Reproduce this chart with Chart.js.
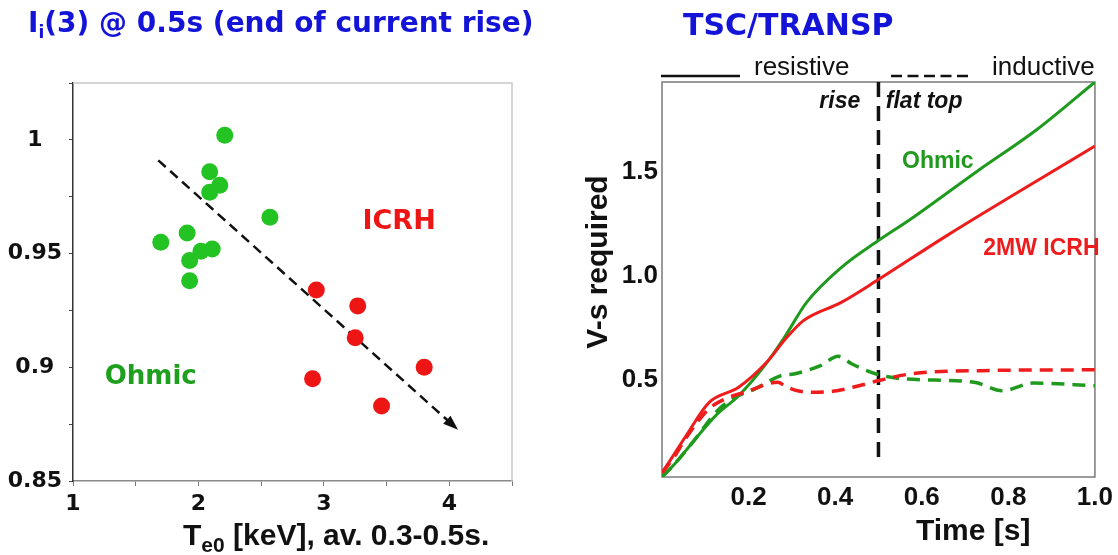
<!DOCTYPE html>
<html>
<head>
<meta charset="utf-8">
<title>li(3) and V-s required</title>
<script src="https://cdn.jsdelivr.net/npm/chart.js@4.4.1/dist/chart.umd.min.js"></script>
<style>
    html, body { margin: 0; padding: 0; background: #fff; }
    #wrap { position: relative; width: 1118px; height: 555px; overflow: hidden; }
    #leftBox { position: absolute; left: 0; top: 0; width: 560px; height: 555px; }
    #rightBox { position: absolute; left: 560px; top: 0; width: 558px; height: 555px; }
</style>
</head>
<body>
<div id="wrap">
    <div id="leftBox"><canvas id="liChart"></canvas></div>
    <div id="rightBox"><canvas id="vsChart"></canvas></div>
</div>
<script>
// ---- left panel: li(3) at 0.5s vs Te0 ----
const ohmicTe = [2.21, 2.09, 2.17, 2.09, 2.57, 1.91, 1.70, 2.02, 2.11, 1.93, 1.93];
const ohmicLi = [1.002, 0.986, 0.980, 0.977, 0.966, 0.959, 0.955, 0.951, 0.952, 0.947, 0.938];
const icrhTe = [2.94, 3.27, 3.25, 2.91, 3.80, 3.46];
const icrhLi = [0.934, 0.927, 0.913, 0.895, 0.900, 0.883];
const trendTe = [1.68, 4.04];
const trendLi = [0.991, 0.874];
const teTicks = [1, 1.5, 2, 2.5, 3, 3.5, 4, 4.5];
const teLabels = ['1', '', '2', '', '3', '', '4', ''];
const liTicks = [0.85, 0.875, 0.9, 0.925, 0.95, 0.975, 1, 1.025];
const liLabels = ['0.85', '', '0.9', '', '0.95', '', '1', ''];

// ---- right panel: TSC/TRANSP V-s required vs time ----
const ohmicResT = [0, 0.026, 0.071, 0.124, 0.177, 0.237, 0.285, 0.334, 0.414, 0.499, 0.574, 0.729, 0.866, 1.0];
const ohmicResV = [0.03, 0.085, 0.198, 0.326, 0.422, 0.567, 0.711, 0.872, 1.04, 1.169, 1.273, 1.506, 1.706, 1.935];
const icrhResT = [0, 0.026, 0.056, 0.109, 0.177, 0.245, 0.285, 0.326, 0.414, 0.499, 0.657, 1.0];
const icrhResV = [0.05, 0.133, 0.23, 0.39, 0.463, 0.591, 0.695, 0.783, 0.872, 0.981, 1.193, 1.626];
const ohmicIndT = [0, 0.026, 0.071, 0.132, 0.169, 0.215, 0.275, 0.305, 0.366, 0.407, 0.439, 0.495, 0.56, 0.721, 0.786, 0.858, 1.0];
const ohmicIndV = [0.03, 0.085, 0.198, 0.358, 0.414, 0.455, 0.519, 0.527, 0.567, 0.612, 0.575, 0.527, 0.503, 0.487, 0.446, 0.483, 0.47];
const icrhIndT = [0, 0.026, 0.056, 0.109, 0.15, 0.192, 0.268, 0.283, 0.313, 0.358, 0.404, 0.455, 0.499, 0.574, 0.737, 1.0];
const icrhIndV = [0.05, 0.12, 0.22, 0.36, 0.41, 0.439, 0.487, 0.47, 0.446, 0.439, 0.446, 0.47, 0.494, 0.527, 0.543, 0.547];
const flatTopT = [0.5, 0.5];
const flatTopV = [1.935, 0.09];
const timeTicks = [0.2, 0.4, 0.6, 0.8, 1.0];
const timeLabels = ['0.2', '0.4', '0.6', '0.8', '1.0'];
const vsTicks = [0.5, 1.0, 1.5];
const vsLabels = ['0.5', '1.0', '1.5'];

(function() {
    'use strict';

    const GREEN_DOT = '#22c322';
    const RED_DOT = '#ee1515';
    const GREEN_LINE = '#1f9a1f';
    const RED_LINE = '#ee1c1c';
    const BLUE = '#1414d8';

    function toPoints(xs, ys) {
        return xs.map((x, i) => ({ x: x, y: ys[i] }));
    }

    /**
     * draw text with a lowered, smaller piece after the first part
     */
    function drawSubText(ctx, x, y, parts) {
        parts.forEach(p => {
            ctx.font = p.font;
            ctx.fillText(p.text, x, y + (p.dy || 0));
            x += ctx.measureText(p.text).width;
        });
    }

    /**
     * left panel
     */
    function renderLiChart() {
        const decor = {
            id: 'liDecor',
            beforeDatasetsDraw(chart) {
                const { ctx, chartArea: a } = chart;
                ctx.save();
                ctx.strokeStyle = '#c8c8c8';
                ctx.lineWidth = 1.5;
                ctx.beginPath();
                ctx.moveTo(a.left, a.top);
                ctx.lineTo(a.right, a.top);
                ctx.lineTo(a.right, a.bottom);
                ctx.stroke();
                ctx.restore();
            },
            afterDatasetsDraw(chart) {
                const { ctx, scales } = chart;
                const x = scales.x, y = scales.y;
                ctx.save();

                // arrow head at end of trend line
                const x0 = x.getPixelForValue(trendTe[0]), y0 = y.getPixelForValue(trendLi[0]);
                const x1 = x.getPixelForValue(trendTe[1]), y1 = y.getPixelForValue(trendLi[1]);
                const ang = Math.atan2(y1 - y0, x1 - x0);
                ctx.translate(x1, y1);
                ctx.rotate(ang);
                ctx.fillStyle = '#111';
                ctx.beginPath();
                ctx.moveTo(5, 0);
                ctx.lineTo(-10, -5.5);
                ctx.lineTo(-10, 5.5);
                ctx.closePath();
                ctx.fill();
                ctx.setTransform(1, 0, 0, 1, 0, 0);

                ctx.textBaseline = 'middle';
                ctx.textAlign = 'center';
                ctx.font = 'bold 27px "DejaVu Sans"';
                ctx.fillStyle = RED_DOT;
                ctx.fillText('ICRH', x.getPixelForValue(3.6), y.getPixelForValue(0.9637));
                ctx.font = 'bold 26px "DejaVu Sans"';
                ctx.fillStyle = '#1ea01e';
                ctx.fillText('Ohmic', x.getPixelForValue(1.62), y.getPixelForValue(0.8955));
                ctx.restore();
            },
            afterDraw(chart) {
                const ctx = chart.ctx;
                ctx.save();
                ctx.textBaseline = 'alphabetic';
                ctx.textAlign = 'left';
                ctx.fillStyle = BLUE;
                drawSubText(ctx, 28, 32, [
                    { text: 'I', font: 'bold 28px "DejaVu Sans"' },
                    { text: 'i', font: 'bold 17px "DejaVu Sans"', dy: 6 },
                    { text: '(3) @ 0.5s (end of current rise)', font: 'bold 28px "DejaVu Sans"' }
                ]);
                ctx.fillStyle = '#111';
                drawSubText(ctx, 183, 545, [
                    { text: 'T', font: 'bold 30px "Liberation Sans"' },
                    { text: 'e0', font: 'bold 21px "Liberation Sans"', dy: 7 },
                    { text: ' [keV], av. 0.3-0.5s.', font: 'bold 30px "Liberation Sans"' }
                ]);
                ctx.restore();
            }
        };

        new Chart(document.getElementById('liChart'), {
            type: 'scatter',
            data: {
                datasets: [
                    {
                        label: 'trend',
                        type: 'line',
                        data: toPoints(trendTe, trendLi),
                        borderColor: '#111',
                        borderWidth: 2.5,
                        borderDash: [10, 6],
                        pointRadius: 0,
                        order: 3
                    },
                    {
                        label: 'Ohmic',
                        data: toPoints(ohmicTe, ohmicLi),
                        backgroundColor: GREEN_DOT,
                        borderWidth: 0,
                        pointRadius: 8.5,
                        order: 1
                    },
                    {
                        label: 'ICRH',
                        data: toPoints(icrhTe, icrhLi),
                        backgroundColor: RED_DOT,
                        borderWidth: 0,
                        pointRadius: 8.5,
                        order: 2
                    }
                ]
            },
            options: {
                responsive: true,
                maintainAspectRatio: false,
                animation: false,
                devicePixelRatio: 1,
                layout: { autoPadding: false, padding: { top: 83, right: 48, left: 0, bottom: 0 } },
                plugins: { legend: { display: false }, tooltip: { enabled: false } },
                scales: {
                    x: {
                        type: 'linear',
                        min: 1,
                        max: 4.5,
                        afterFit(s) { s.height = 74; },
                        afterBuildTicks(s) { s.ticks = teTicks.map(v => ({ value: v })); },
                        grid: { drawOnChartArea: false, tickLength: 5, color: '#777' },
                        border: { color: '#8a8a8a', width: 1.5 },
                        ticks: {
                            padding: 5,
                            color: '#111',
                            font: { family: 'DejaVu Sans', weight: 'bold', size: 22 },
                            maxRotation: 0,
                            autoSkip: false,
                            callback: (v, i) => teLabels[i]
                        }
                    },
                    y: {
                        type: 'linear',
                        min: 0.85,
                        max: 1.025,
                        afterFit(s) { s.width = 73; },
                        afterBuildTicks(s) { s.ticks = liTicks.map(v => ({ value: v })); },
                        grid: { drawOnChartArea: false, tickLength: 4, color: '#444' },
                        border: { color: '#333', width: 1.5 },
                        ticks: {
                            padding: 7,
                            crossAlign: 'center',
                            color: '#111',
                            font: { family: 'DejaVu Sans', weight: 'bold', size: 22 },
                            autoSkip: false,
                            callback: (v, i) => liLabels[i]
                        }
                    }
                }
            },
            plugins: [decor]
        });
    }

    /**
     * right panel
     */
    function renderVsChart() {
        const decor = {
            id: 'vsDecor',
            beforeDatasetsDraw(chart) {
                const { ctx, chartArea: a } = chart;
                ctx.save();
                ctx.strokeStyle = '#7a7a7a';
                ctx.lineWidth = 1.5;
                ctx.strokeRect(a.left, a.top, a.right - a.left, a.bottom - a.top);
                ctx.restore();
            },
            afterDatasetsDraw(chart) {
                const { ctx, scales } = chart;
                const x = scales.x, y = scales.y;
                ctx.save();
                ctx.textBaseline = 'alphabetic';
                ctx.fillStyle = '#111';
                ctx.font = 'italic bold 23px "Liberation Sans"';
                ctx.textAlign = 'right';
                ctx.fillText('rise', x.getPixelForValue(0.458), y.getPixelForValue(1.81));
                ctx.textAlign = 'left';
                ctx.fillText('flat top', x.getPixelForValue(0.517), y.getPixelForValue(1.81));

                ctx.textBaseline = 'middle';
                ctx.font = 'bold 23px "Liberation Sans"';
                ctx.fillStyle = GREEN_LINE;
                ctx.textAlign = 'center';
                ctx.fillText('Ohmic', x.getPixelForValue(0.637), y.getPixelForValue(1.55));
                ctx.fillStyle = RED_LINE;
                ctx.textAlign = 'left';
                ctx.fillText('2MW ICRH', x.getPixelForValue(0.742), y.getPixelForValue(1.129));
                ctx.restore();
            },
            afterDraw(chart) {
                const ctx = chart.ctx;
                ctx.save();
                // title
                ctx.textAlign = 'left';
                ctx.textBaseline = 'alphabetic';
                ctx.fillStyle = BLUE;
                ctx.font = 'bold 30px "DejaVu Sans"';
                ctx.fillText('TSC/TRANSP', 123, 35);

                // line style key
                ctx.strokeStyle = '#111';
                ctx.lineWidth = 2.5;
                ctx.beginPath();
                ctx.moveTo(101, 76);
                ctx.lineTo(180, 76);
                ctx.stroke();
                ctx.setLineDash([11, 5.5]);
                ctx.beginPath();
                ctx.moveTo(331, 76);
                ctx.lineTo(410, 76);
                ctx.stroke();
                ctx.setLineDash([]);
                ctx.fillStyle = '#111';
                ctx.font = '26px "Liberation Sans"';
                ctx.fillText('resistive', 194, 75);
                ctx.fillText('inductive', 432, 75);

                // axis titles
                ctx.font = 'bold 30px "Liberation Sans"';
                ctx.fillText('Time [s]', 356, 540);
                ctx.translate(47, 262);
                ctx.rotate(-Math.PI / 2);
                ctx.textAlign = 'center';
                ctx.fillText('V-s required', 0, 0);
                ctx.restore();
            }
        };

        const line = (xs, ys, color, dashed) => ({
            type: 'line',
            data: toPoints(xs, ys),
            borderColor: color,
            borderWidth: dashed ? 3.5 : 3,
            borderDash: dashed ? [13, 8] : [],
            pointRadius: 0,
            cubicInterpolationMode: 'monotone'
        });

        new Chart(document.getElementById('vsChart'), {
            type: 'line',
            data: {
                datasets: [
                    Object.assign(line(icrhIndT, icrhIndV, RED_LINE, true), { label: 'ICRH inductive' }),
                    Object.assign(line(ohmicIndT, ohmicIndV, GREEN_LINE, true), { label: 'Ohmic inductive' }),
                    Object.assign(line(icrhResT, icrhResV, RED_LINE, false), { label: 'ICRH resistive' }),
                    Object.assign(line(ohmicResT, ohmicResV, GREEN_LINE, false), { label: 'Ohmic resistive' }),
                    {
                        label: 'end of rise',
                        data: toPoints(flatTopT, flatTopV),
                        borderColor: '#111',
                        borderWidth: 3.5,
                        borderDash: [15, 9],
                        pointRadius: 0
                    }
                ]
            },
            options: {
                responsive: true,
                maintainAspectRatio: false,
                animation: false,
                devicePixelRatio: 1,
                layout: { autoPadding: false, padding: { top: 82, right: 15, left: 0, bottom: 0 } },
                plugins: { legend: { display: false }, tooltip: { enabled: false } },
                scales: {
                    x: {
                        type: 'linear',
                        min: 0,
                        max: 1,
                        afterFit(s) { s.height = 78; },
                        afterBuildTicks(s) { s.ticks = timeTicks.map(v => ({ value: v })); },
                        grid: { display: false, drawTicks: false },
                        border: { display: false },
                        ticks: {
                            padding: 5,
                            color: '#111',
                            font: { family: 'Liberation Sans', weight: 'bold', size: 26 },
                            maxRotation: 0,
                            autoSkip: false,
                            callback: (v, i) => timeLabels[i]
                        }
                    },
                    y: {
                        type: 'linear',
                        min: 0.03,
                        max: 1.935,
                        afterFit(s) { s.width = 102; },
                        afterBuildTicks(s) { s.ticks = vsTicks.map(v => ({ value: v })); },
                        grid: { display: false, drawTicks: false },
                        border: { display: false },
                        ticks: {
                            padding: 4,
                            color: '#111',
                            font: { family: 'Liberation Sans', weight: 'bold', size: 26 },
                            autoSkip: false,
                            callback: (v, i) => vsLabels[i]
                        }
                    }
                }
            },
            plugins: [decor]
        });
    }

    renderLiChart();
    renderVsChart();
})();
</script>
</body>
</html>
